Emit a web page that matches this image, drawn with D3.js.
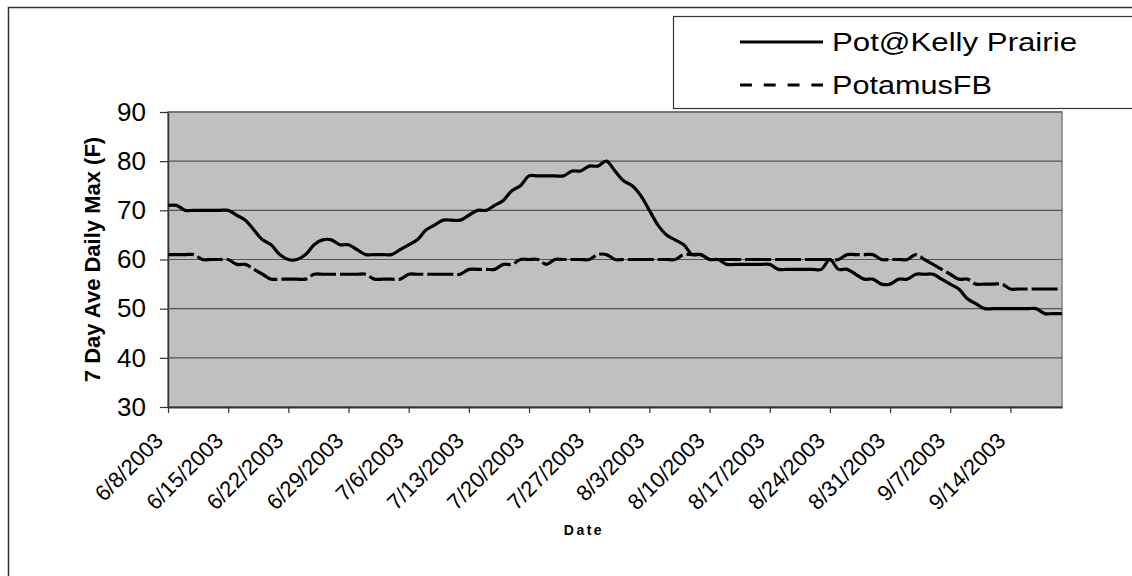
<!DOCTYPE html>
<html lang="en">

<head>
    <title>7 Day Ave Daily Max</title>
    <script src="https://d3js.org/d3.v7.min.js"></script>
    <style>
        body {
            margin: 0;
            background: white;
        }

        text {
            font-family: "Liberation Sans", Arial, sans-serif;
            fill: black;
        }
    </style>
</head>

<body>
    <div id="chart"></div>

    <script>

        // daily values, starting 6/8/2003
        const startDay = new Date(2003, 5, 8);
        const endDay = new Date(2003, 8, 20);

        const kellyTemps = [
            71, 71, 70, 70, 70, 70, 70, 70, 69, 68, 66, 64, 63, 61, 60, 60, 61, 63, 64, 64, 63,
            63, 62, 61, 61, 61, 61, 62, 63, 64, 66, 67, 68, 68, 68, 69, 70, 70, 71, 72, 74, 75,
            77, 77, 77, 77, 77, 78, 78, 79, 79, 80, 78, 76, 75, 73, 70, 67, 65, 64, 63, 61, 61,
            60, 60, 59, 59, 59, 59, 59, 59, 58, 58, 58, 58, 58, 58, 60, 58, 58, 57, 56, 56, 55,
            55, 56, 56, 57, 57, 57, 56, 55, 54, 52, 51, 50, 50, 50, 50, 50, 50, 50, 49, 49, 49
        ];

        const potamusTemps = [
            61, 61, 61, 61, 60, 60, 60, 60, 59, 59, 58, 57, 56, 56, 56, 56, 56, 57, 57, 57, 57,
            57, 57, 57, 56, 56, 56, 56, 57, 57, 57, 57, 57, 57, 57, 58, 58, 58, 58, 59, 59, 60,
            60, 60, 59, 60, 60, 60, 60, 60, 61, 61, 60, 60, 60, 60, 60, 60, 60, 60, 61, 61, 61,
            60, 60, 60, 60, 60, 60, 60, 60, 60, 60, 60, 60, 60, 60, 60, 60, 61, 61, 61, 61, 60,
            60, 60, 60, 61, 60, 59, 58, 57, 56, 56, 55, 55, 55, 55, 54, 54, 54, 54, 54, 54, 54
        ];

        const seriesNames = ['Pot@Kelly Prairie', 'PotamusFB'];
        const yTicks = [30, 40, 50, 60, 70, 80, 90];
        const yTitle = '7 Day Ave Daily Max (F)';
        const xTitle = 'Date';

        const svgWidth = 1132, svgHeight = 576;
        const plotLeft = 168, plotRight = 1062, plotTop = 112, plotBottom = 407;

        const fmt = d3.timeFormat('%-m/%-d/%Y');

        function toPoints(values) {
            return values.map((v, i) => ({ date: d3.timeDay.offset(startDay, i), value: v }));
        }

        function drawChart() {
            const svg = d3.select('#chart')
                .append('svg')
                .attr('width', svgWidth)
                .attr('height', svgHeight);

            // outer chart border
            svg.append('rect')
                .attr('x', 8.5).attr('y', 7.5)
                .attr('width', svgWidth).attr('height', svgHeight)
                .attr('fill', 'white')
                .attr('stroke', '#333')
                .attr('stroke-width', 1.5);

            const scaleX = d3.scaleTime()
                .domain([startDay, endDay])
                .range([plotLeft, plotRight]);

            const scaleY = d3.scaleLinear()
                .domain([30, 90])
                .range([plotBottom, plotTop]);

            // plot area
            svg.append('rect')
                .attr('x', plotLeft).attr('y', plotTop)
                .attr('width', plotRight - plotLeft).attr('height', plotBottom - plotTop)
                .attr('fill', '#c0c0c0')
                .attr('stroke', '#808080')
                .attr('stroke-width', 1.5);

            // y axis with gridlines
            const yAxis = svg.append('g')
                .attr('transform', 'translate(' + plotLeft + ',0)')
                .call(d3.axisLeft(scaleY)
                    .tickValues(yTicks)
                    .tickSize(8)
                    .tickPadding(14)
                    .tickSizeOuter(0));
            yAxis.select('.domain').attr('stroke', '#333').attr('stroke-width', 1.5);
            yAxis.selectAll('.tick line').attr('stroke', '#333').attr('stroke-width', 1.2);
            yAxis.selectAll('.tick text')
                .style('font-size', '26px')
                .style('font-family', '"Liberation Sans", Arial, sans-serif');

            svg.append('g')
                .selectAll('line')
                .data(yTicks.filter(t => t > 30))
                .join('line')
                .attr('x1', plotLeft).attr('x2', plotRight)
                .attr('y1', d => scaleY(d)).attr('y2', d => scaleY(d))
                .attr('stroke', '#555')
                .attr('stroke-width', 1.2);

            // x axis
            const tickDates = d3.timeDay.range(startDay, d3.timeDay.offset(endDay, 1), 7);
            const xAxis = svg.append('g')
                .attr('transform', 'translate(0,' + plotBottom + ')')
                .call(d3.axisBottom(scaleX)
                    .tickValues(tickDates)
                    .tickFormat(fmt)
                    .tickSize(6)
                    .tickSizeOuter(0));
            xAxis.select('.domain').attr('stroke', '#333').attr('stroke-width', 2);
            xAxis.selectAll('.tick line').attr('stroke', '#333').attr('stroke-width', 1.2);
            xAxis.selectAll('.tick text')
                .style('font-size', '22px')
                .style('font-family', '"Liberation Sans", Arial, sans-serif')
                .attr('text-anchor', 'end')
                .attr('dy', 0)
                .attr('y', 0)
                .attr('transform', 'translate(-4,35) rotate(-45)');

            // series lines
            const line = d3.line()
                .x(d => scaleX(d.date))
                .y(d => scaleY(d.value))
                .curve(d3.curveCatmullRom.alpha(0.5));

            svg.append('path')
                .datum(toPoints(potamusTemps))
                .attr('fill', 'none')
                .attr('stroke', 'black')
                .attr('stroke-width', 3.2)
                .attr('stroke-dasharray', '26,4')
                .attr('d', line);

            svg.append('path')
                .datum(toPoints(kellyTemps))
                .attr('fill', 'none')
                .attr('stroke', 'black')
                .attr('stroke-width', 3.2)
                .attr('d', line);

            // axis titles
            svg.append('text')
                .attr('transform', 'translate(100,' + ((plotTop + plotBottom) / 2) + ') rotate(-90)')
                .attr('text-anchor', 'middle')
                .attr('font-weight', 'bold')
                .attr('font-size', '22px')
                .text(yTitle);

            svg.append('text')
                .attr('x', 584).attr('y', 535)
                .attr('text-anchor', 'middle')
                .attr('font-weight', 'bold')
                .attr('font-size', '14px')
                .attr('letter-spacing', '2.5px')
                .text(xTitle);

            // legend
            const legend = svg.append('g');
            legend.append('rect')
                .attr('x', 673.5).attr('y', 16.5)
                .attr('width', 470).attr('height', 92)
                .attr('fill', 'white')
                .attr('stroke', '#333')
                .attr('stroke-width', 1.2);

            const legendRows = [
                { name: seriesNames[0], y: 42, dash: null, len: 245 },
                { name: seriesNames[1], y: 85, dash: '11.9,11.9', len: 160 }
            ];
            legendRows.forEach(r => {
                legend.append('line')
                    .attr('x1', 740).attr('x2', 823)
                    .attr('y1', r.y).attr('y2', r.y)
                    .attr('stroke', 'black')
                    .attr('stroke-width', 3.2)
                    .attr('stroke-dasharray', r.dash);
                legend.append('text')
                    .attr('x', 832).attr('y', r.y + 9)
                    .attr('font-size', '26px')
                    .attr('textLength', r.len)
                    .attr('lengthAdjust', 'spacingAndGlyphs')
                    .text(r.name);
            });
        }

        window.onload = function () {
            drawChart();
        }

    </script>
</body>

</html>
